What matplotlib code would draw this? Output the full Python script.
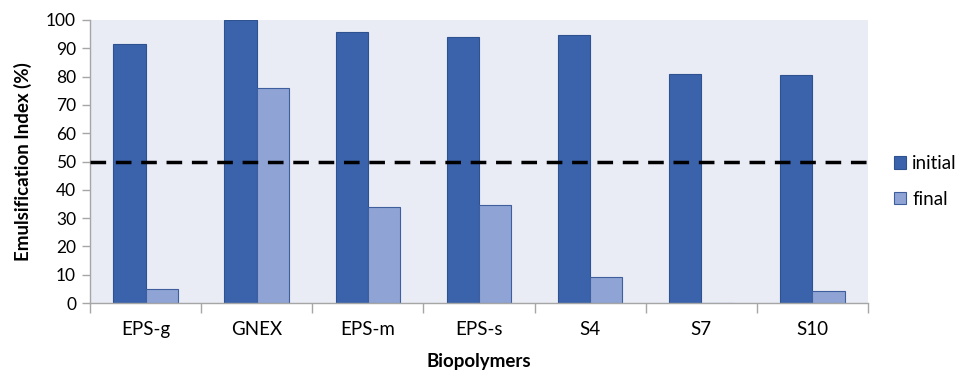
import matplotlib.pyplot as plt
import numpy as np

categories = ['EPS-g', 'GNEX', 'EPS-m', 'EPS-s', 'S4', 'S7', 'S10']
initial = [91.5, 100, 95.8, 94.0, 94.8, 81.0, 80.7]
final = [5.0, 76.0, 34.0, 34.8, 9.3, 0.0, 4.3]
threshold = 50

plt.rcParams['font.family'] = ['Lato', 'DejaVu Sans']

fig = plt.figure(figsize=(9.58, 3.73), dpi=100)
ax = fig.add_axes([90 / 958, 70 / 373, 778 / 958, 283 / 373])
ax.set_facecolor('#E9EBF5')

x = np.arange(len(categories))
w = 0.29
ax.bar(x - w / 2, initial, w, color='#3A63AC', edgecolor='#2E528F', linewidth=0.8, label='initial')
ax.bar(x + w / 2, final, w, color='#8FA4D5', edgecolor='#3F5E9E', linewidth=0.8, label='final')
ax.axhline(threshold, color='black', linestyle=(0, (4.5, 2.8)), linewidth=2.5, zorder=3)

ax.set_xlim(-0.5, len(categories) - 0.5)
ax.set_ylim(0, 100)
ax.set_yticks(range(0, 101, 10))
ax.set_xticks(x)
ax.set_xticklabels(categories)
ax.set_xticks(np.arange(-0.5, len(categories)), minor=True)
ax.tick_params(axis='x', which='major', length=0, pad=13, labelsize=13.5)
ax.tick_params(axis='x', which='minor', length=7, color='#A6A6A6', width=1)
ax.tick_params(axis='y', length=6, color='#A6A6A6', width=1, labelsize=12.5, pad=4)

for s in ['top', 'right']:
    ax.spines[s].set_visible(False)
for s in ['left', 'bottom']:
    ax.spines[s].set_color('#A6A6A6')
    ax.spines[s].set_linewidth(1)

ax.set_ylabel('Emulsification Index (%)', fontsize=13.5, fontweight='bold', labelpad=10)
ax.set_xlabel('Biopolymers', fontsize=13.5, fontweight='bold', labelpad=11)

ax.legend(loc='center left', bbox_to_anchor=(1.012, 0.43), frameon=False, fontsize=13.5,
          handlelength=0.65, handleheight=0.65, labelspacing=1.0, handletextpad=0.3)

fig.savefig('out.png', dpi=100)
